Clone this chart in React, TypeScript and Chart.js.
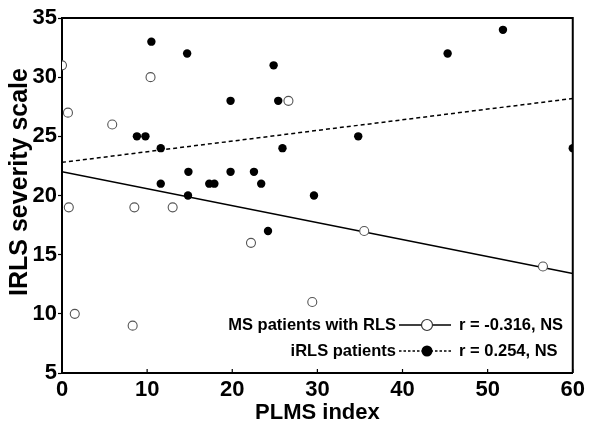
import React, { useEffect, useRef } from "react";
import { Chart, registerables } from "chart.js";

Chart.register(...registerables);

// MS patients with RLS (open circles)
const msPlms = [0, 0.7, 0.8, 1.5, 5.9, 10.4, 8.5, 8.3, 13.0, 22.2, 26.6, 29.4, 35.5, 56.5];
const msIrls = [31, 27, 19, 10, 26, 30, 19, 9, 19, 16, 28, 11, 17, 14];

// iRLS patients (filled circles)
const irlsPlms = [10.5, 14.7, 8.8, 9.8, 11.6, 11.6, 14.85, 14.8, 17.3, 17.9, 19.8, 19.8, 22.55, 23.4, 24.86, 25.4, 25.9, 24.2, 29.6, 34.8, 45.3, 51.8, 60];
const irlsIrls = [33, 32, 25, 25, 24, 21, 22, 20, 21, 21, 28, 22, 22, 21, 31, 28, 24, 17, 20, 25, 32, 34, 24];

// Regression lines: values at x = 0 and x = 60
const fitX = [0, 60];
const fitMs = [22.0, 13.4];
const fitIrls = [22.8, 28.2];

const xTicks = [0, 10, 20, 30, 40, 50, 60];
const yTicks = [5, 10, 15, 20, 25, 30, 35];

const yTitle = "IRLS severity scale";
const xTitle = "PLMS index";
const legendLabels = ["MS patients with RLS", "iRLS patients"];
const legendStats = ["r = -0.316, NS", "r = 0.254, NS"];

const FONT = "'Liberation Sans', Arial, sans-serif";

export default function App() {
  const ref = useRef<HTMLCanvasElement | null>(null);

  useEffect(() => {
    document.body.style.margin = "0";
    const canvas = ref.current;
    if (!canvas) return;

    const decor = {
      id: "decor",
      afterDraw(chart: any) {
        const ctx = chart.ctx;
        const a = chart.chartArea;
        const xs = chart.scales.x;
        ctx.save();
        // top and right borders
        ctx.strokeStyle = "#000";
        ctx.lineWidth = 2;
        ctx.beginPath();
        ctx.moveTo(a.left, a.top);
        ctx.lineTo(a.right, a.top);
        ctx.lineTo(a.right, a.bottom);
        ctx.stroke();
        // inward x ticks
        ctx.lineWidth = 1.2;
        ctx.beginPath();
        xTicks.forEach((t) => {
          const px = xs.getPixelForValue(t);
          ctx.moveTo(px, a.bottom);
          ctx.lineTo(px, a.bottom - 4);
        });
        ctx.stroke();

        // y axis title
        ctx.save();
        ctx.translate(20, 182);
        ctx.rotate(-Math.PI / 2);
        ctx.font = `bold 25px ${FONT}`;
        ctx.textAlign = "center";
        ctx.textBaseline = "middle";
        ctx.fillStyle = "#000";
        ctx.fillText(yTitle, 0, 0);
        ctx.restore();

        // custom legend
        const rows = [325, 351];
        const textRight = 396;
        const lineL = 399;
        const lineR = 451;
        const mark = 427;
        const statX = 459;
        ctx.font = `bold 16.5px ${FONT}`;
        ctx.textBaseline = "middle";
        ctx.fillStyle = "#000";
        rows.forEach((y, i) => {
          ctx.textAlign = "right";
          ctx.fillText(legendLabels[i], textRight, y);
          ctx.textAlign = "left";
          ctx.fillText(legendStats[i], statX, y);
          ctx.strokeStyle = "#000";
          ctx.lineWidth = 1.5;
          ctx.setLineDash(i === 0 ? [] : [2.5, 2]);
          ctx.beginPath();
          ctx.moveTo(lineL, y);
          ctx.lineTo(lineR, y);
          ctx.stroke();
          ctx.setLineDash([]);
          ctx.beginPath();
          ctx.arc(mark, y, 5.5, 0, Math.PI * 2);
          if (i === 0) {
            ctx.fillStyle = "#fff";
            ctx.fill();
            ctx.lineWidth = 1.2;
            ctx.strokeStyle = "#333";
            ctx.stroke();
          } else {
            ctx.fillStyle = "#000";
            ctx.fill();
          }
          ctx.fillStyle = "#000";
        });
        ctx.restore();
      },
    };

    const chart = new Chart(canvas, {
      type: "scatter",
      data: {
        datasets: [
          {
            label: "MS patients with RLS",
            data: msPlms.map((x, i) => ({ x, y: msIrls[i] })),
            pointRadius: 4.5,
            pointBackgroundColor: "#fff",
            pointBorderColor: "#555",
            pointBorderWidth: 1.1,
            clip: 0,
            order: 0,
          },
          {
            label: "iRLS patients",
            data: irlsPlms.map((x, i) => ({ x, y: irlsIrls[i] })),
            pointRadius: 4.2,
            pointBackgroundColor: "#000",
            pointBorderColor: "#000",
            pointBorderWidth: 0,
            clip: 0,
            order: 1,
          },
          {
            type: "line",
            label: "fit MS",
            data: fitX.map((x, i) => ({ x, y: fitMs[i] })),
            borderColor: "#000",
            borderWidth: 1.5,
            pointRadius: 0,
            clip: 0,
            order: 2,
          } as any,
          {
            type: "line",
            label: "fit iRLS",
            data: fitX.map((x, i) => ({ x, y: fitIrls[i] })),
            borderColor: "#000",
            borderWidth: 1.5,
            borderDash: [4, 3],
            pointRadius: 0,
            clip: 0,
            order: 3,
          } as any,
        ],
      },
      options: {
        animation: false,
        responsive: true,
        maintainAspectRatio: false,
        layout: { padding: { left: 0, right: 15, top: 18, bottom: 0 } },
        plugins: { legend: { display: false }, tooltip: { enabled: false } },
        scales: {
          x: {
            type: "linear",
            min: 0,
            max: 60,
            afterBuildTicks: (s: any) => {
              s.ticks = xTicks.map((v) => ({ value: v }));
            },
            afterFit: (s: any) => {
              s.height = 53;
            },
            grid: { display: false, drawTicks: false },
            border: { display: true, color: "#000", width: 2 },
            ticks: {
              color: "#000",
              font: { family: FONT, size: 22, weight: "bold" },
              padding: 4,
              maxRotation: 0,
            },
            title: {
              display: true,
              text: xTitle,
              color: "#000",
              font: { family: FONT, size: 22, weight: "bold" },
              padding: { top: 0, bottom: 0 },
            },
          },
          y: {
            type: "linear",
            min: 5,
            max: 35,
            afterBuildTicks: (s: any) => {
              s.ticks = yTicks.map((v) => ({ value: v }));
            },
            afterFit: (s: any) => {
              s.width = 62;
            },
            grid: {
              drawOnChartArea: false,
              drawTicks: true,
              tickLength: 4,
              tickWidth: 1.2,
              color: "#000",
            },
            border: { display: true, color: "#000", width: 2 },
            ticks: {
              color: "#000",
              font: { family: FONT, size: 22, weight: "bold" },
              padding: 1,
            },
            title: { display: false },
          },
        },
      },
      plugins: [decor],
    } as any);

    return () => chart.destroy();
  }, []);

  return (
    <div style={{ width: 589, height: 426, position: "relative", background: "#fff" }}>
      <canvas ref={ref} />
    </div>
  );
}
